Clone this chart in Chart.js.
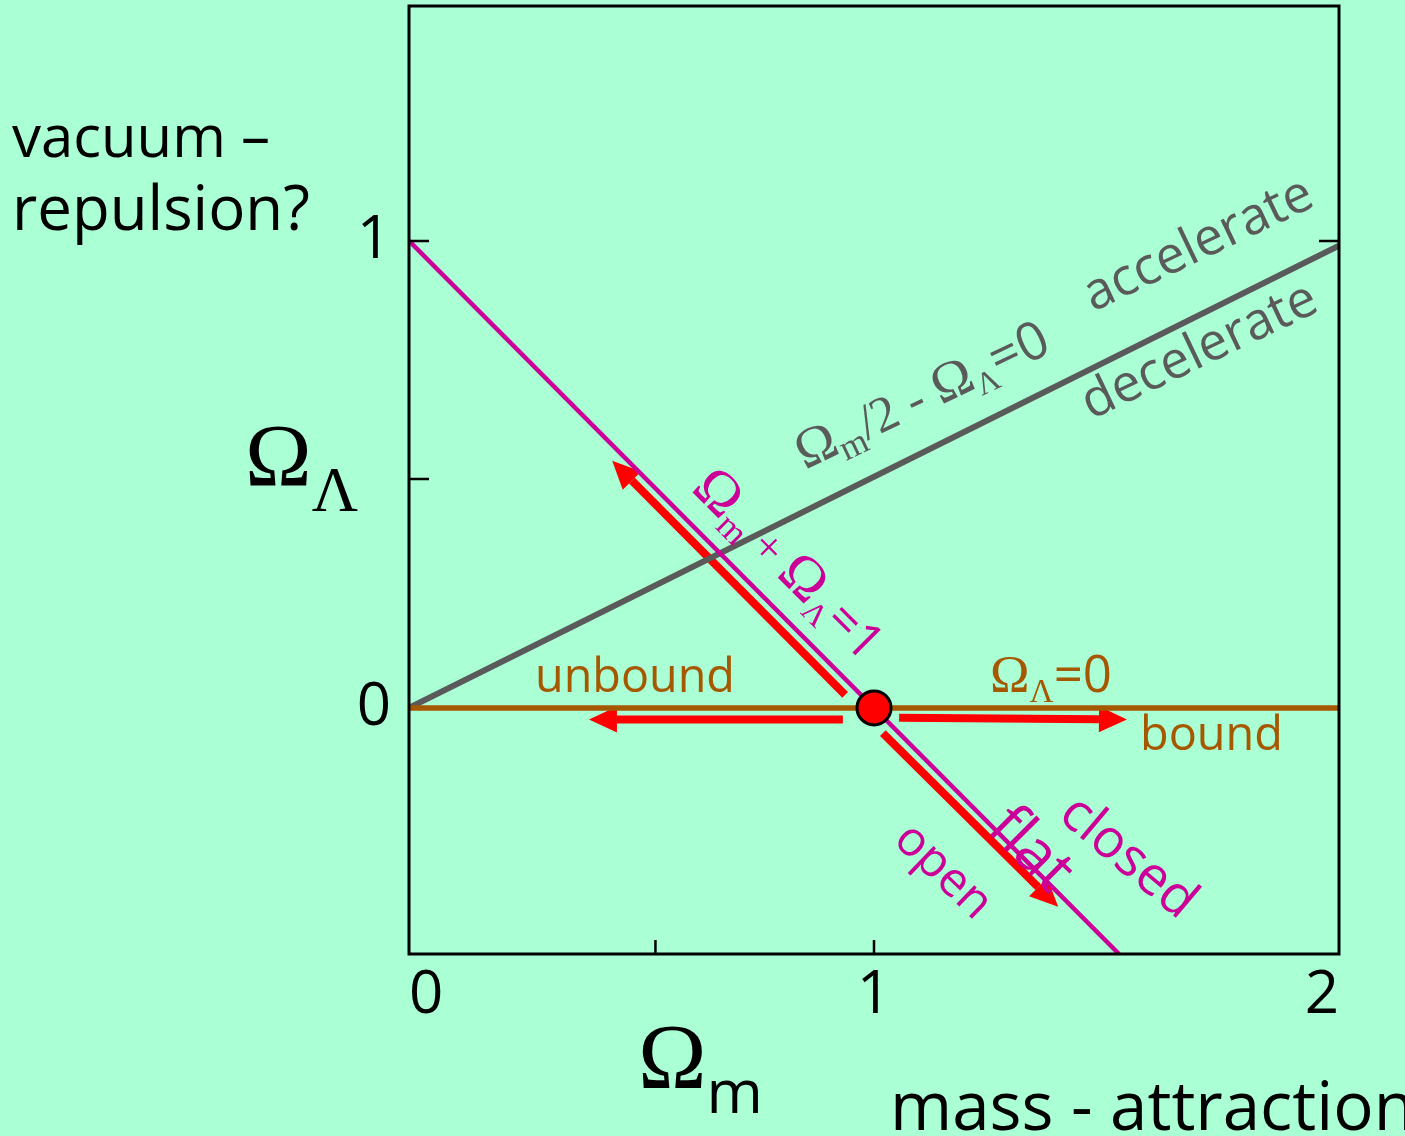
<!DOCTYPE html>
<html>
<head>
<meta charset="utf-8">
<script src="https://cdn.jsdelivr.net/npm/chart.js@4.4.1/dist/chart.umd.min.js"></script>
<style>
  html, body { margin: 0; padding: 0; background: #aaffd4; }
  canvas { display: block; }
</style>
</head>
<body>
<canvas id="chart" width="1405" height="1136"></canvas>
<script>
// axis ticks
const xTickValues = [0, 1, 2];
const yTickValues = [0, 1];
const xMarks = [0.53, 1];
const yMarksLeft = [0.49, 1];
const yMarksRight = [1];

// lines in the (Omega_m, Omega_Lambda) plane
const flatLine = [{x: 0, y: 1}, {x: 1.527, y: -0.527}];
const accelLine = [{x: 0, y: 0}, {x: 2, y: 0.99}];
const lambdaZero = [{x: 0, y: 0}, {x: 2, y: 0}];
const todayPoint = [{x: 1, y: 0}];

// red arrows, tail and head
const arrowTails = [[0.933, -0.0246], [1.054, -0.021], [0.938, 0.028], [1.019, -0.054]];
const arrowHeads = [[0.387, -0.0246], [1.544, -0.025], [0.437, 0.529], [1.396, -0.426]];

const SERIF = '"Liberation Serif", serif';
const SANS = '"Open Sans", sans-serif';
const BROWN = '#a65800', MAGENTA = '#cc0099', GREY = '#5a5a5a', RED = '#ff0000';

// text runs: mixed fonts, scaled to a target width
function fitRuns(ctx, runs, width, weight) {
    let w = 0;
    runs.forEach(r => { ctx.font = (r.f === SANS ? weight : '') + ' ' + r.s + 'px ' + r.f; w += ctx.measureText(r.t).width; });
    return width ? width / w : 1;
}
function drawRuns(ctx, runs, x, y, opt) {
    const wt = opt.weight || '500';
    const k = fitRuns(ctx, runs, opt.width, wt);
    const fontOf = r => (r.f === SANS ? wt : '') + ' ' + (r.s * k) + 'px ' + r.f;
    ctx.save();
    ctx.translate(x, y);
    ctx.rotate((opt.angle || 0) * Math.PI / 180);
    ctx.fillStyle = opt.color;
    ctx.textBaseline = opt.middle ? 'middle' : 'alphabetic';
    let total = 0;
    runs.forEach(r => { ctx.font = fontOf(r); total += ctx.measureText(r.t).width; });
    let cx = opt.center ? -total / 2 : 0;
    runs.forEach(r => {
        ctx.font = fontOf(r);
        ctx.fillText(r.t, cx, (r.dy || 0) * k);
        cx += ctx.measureText(r.t).width;
    });
    ctx.restore();
}

// labels inside the plot, anchored in data units
const plotLabels = [
    {at: [0.271, 0.034], width: 200, color: BROWN, runs: [{t: 'unbound', f: SANS, s: 50}]},
    {at: [1.572, -0.090], width: 143, color: BROWN, runs: [{t: 'bound', f: SANS, s: 50}]},
    {at: [1.2495, 0.034], width: 122, color: BROWN, runs: [
        {t: 'Ω', f: SERIF, s: 48}, {t: 'Λ', f: SERIF, s: 30, dy: 9}, {t: '=0', f: SANS, s: 46}]},
    {at: [0.8516, 0.5096], width: 275, angle: -25.5, color: GREY, runs: [
        {t: 'Ω', f: SERIF, s: 52}, {t: 'm', f: SERIF, s: 34, dy: 9}, {t: '/2 - ', f: SERIF, s: 48},
        {t: 'Ω', f: SERIF, s: 52}, {t: 'Λ', f: SERIF, s: 30, dy: 9}, {t: '=0', f: SANS, s: 50}]},
    {at: [1.471, 0.848], width: 248, angle: -25.5, color: GREY, runs: [{t: 'accelerate', f: SANS, s: 50}]},
    {at: [1.4667, 0.6167], width: 255, angle: -25.5, color: GREY, runs: [{t: 'decelerate', f: SANS, s: 50}]},
    {at: [0.6043, 0.4668], width: 245, angle: 45, color: MAGENTA, runs: [
        {t: 'Ω', f: SERIF, s: 56}, {t: 'm', f: SERIF, s: 34, dy: 9}, {t: ' + ', f: SERIF, s: 44},
        {t: 'Ω', f: SERIF, s: 56}, {t: 'Λ', f: SERIF, s: 30, dy: 9}, {t: '=1', f: SANS, s: 48}]},
    {at: [1.3355, -0.305], width: 92, angle: 45, center: true, middle: true, color: MAGENTA,
        runs: [{t: 'flat', f: SANS, s: 50}]},
    {at: [1.546, -0.321], width: 160, angle: 40, center: true, middle: true, color: MAGENTA,
        runs: [{t: 'closed', f: SANS, s: 50}]},
    {at: [1.148, -0.351], width: 115, angle: 44, center: true, middle: true, color: MAGENTA,
        runs: [{t: 'open', f: SANS, s: 50}]}
];

// labels around the frame, in canvas pixels
const frameLabels = [
    {at: [12, 157], width: 258, color: '#000', runs: [{t: 'vacuum –', f: SANS, s: 56}]},
    {at: [12, 230], width: 298, color: '#000', runs: [{t: 'repulsion?', f: SANS, s: 56}]},
    {at: [245, 485], width: 113, color: '#000', runs: [
        {t: 'Ω', f: SERIF, s: 90}, {t: 'Λ', f: SERIF, s: 64, dy: 26}]},
    {at: [638, 1088], width: 125, color: '#000', runs: [
        {t: 'Ω', f: SERIF, s: 94}, {t: 'm', f: SANS, s: 62, dy: 25}]},
    {at: [890, 1130], width: 525, color: '#000', runs: [{t: 'mass - attraction', f: SANS, s: 60}]}
];

function drawArrow(ctx, x0, y0, x1, y1) {
    const a = Math.atan2(y1 - y0, x1 - x0);
    const headLen = 28, headHalf = 13;
    const bx = x1 - headLen * Math.cos(a), by = y1 - headLen * Math.sin(a);
    ctx.strokeStyle = RED;
    ctx.lineWidth = 8;
    ctx.beginPath();
    ctx.moveTo(x0, y0);
    ctx.lineTo(bx, by);
    ctx.stroke();
    ctx.fillStyle = RED;
    ctx.beginPath();
    ctx.moveTo(x1, y1);
    ctx.lineTo(bx + headHalf * Math.sin(a), by - headHalf * Math.cos(a));
    ctx.lineTo(bx - headHalf * Math.sin(a), by + headHalf * Math.cos(a));
    ctx.closePath();
    ctx.fill();
}

const decorations = {
    id: 'decorations',
    beforeDatasetsDraw(chart) {
        const {ctx, scales: {x, y}} = chart;
        ctx.save();
        arrowTails.forEach((t, i) => {
            const h = arrowHeads[i];
            drawArrow(ctx, x.getPixelForValue(t[0]), y.getPixelForValue(t[1]),
                x.getPixelForValue(h[0]), y.getPixelForValue(h[1]));
        });
        ctx.restore();
    },
    afterDatasetsDraw(chart) {
        const {ctx, chartArea: a, scales: {x, y}} = chart;
        ctx.save();
        ctx.strokeStyle = '#000';
        ctx.lineWidth = 3;
        ctx.strokeRect(a.left, a.top, a.right - a.left, a.bottom - a.top);
        ctx.lineWidth = 2.5;
        ctx.beginPath();
        xMarks.forEach(v => {
            const px = x.getPixelForValue(v);
            ctx.moveTo(px, a.bottom); ctx.lineTo(px, a.bottom - 14);
        });
        yMarksLeft.forEach(v => {
            const py = y.getPixelForValue(v);
            ctx.moveTo(a.left, py); ctx.lineTo(a.left + 20, py);
        });
        yMarksRight.forEach(v => {
            const py = y.getPixelForValue(v);
            ctx.moveTo(a.right, py); ctx.lineTo(a.right - 20, py);
        });
        ctx.stroke();
        plotLabels.forEach(l => {
            drawRuns(ctx, l.runs, x.getPixelForValue(l.at[0]), y.getPixelForValue(l.at[1]), l);
        });
        ctx.restore();
    },
    afterDraw(chart) {
        const ctx = chart.ctx;
        frameLabels.forEach(l => drawRuns(ctx, l.runs, l.at[0], l.at[1], l));
    }
};

const line = (data, color, width, order) => ({
    data: data, showLine: true, borderColor: color, borderWidth: width,
    pointRadius: 0, order: order
});

new Chart(document.getElementById('chart'), {
    type: 'scatter',
    data: {
        datasets: [
            {data: todayPoint, pointRadius: 17, pointBackgroundColor: RED, pointBorderColor: '#000',
                pointBorderWidth: 3, order: 0},
            line(flatLine, MAGENTA, 4.5, 1),
            line(lambdaZero, BROWN, 5.5, 2),
            line(accelLine, GREY, 6, 3)
        ]
    },
    options: {
        responsive: false,
        devicePixelRatio: 1,
        animation: false,
        layout: {autoPadding: false, padding: {top: 6, right: 66, left: 0, bottom: 0}},
        plugins: {legend: {display: false}, tooltip: {enabled: false}},
        scales: {
            x: {
                type: 'linear', min: 0, max: 2,
                grid: {display: false, drawTicks: false},
                border: {display: false},
                afterBuildTicks: s => { s.ticks = xTickValues.map(v => ({value: v})); },
                afterFit: s => { s.height = 182; s.paddingLeft = 0; s.paddingRight = 0; },
                ticks: {
                    color: '#000', align: 'inner', padding: 6, maxRotation: 0,
                    font: {family: SANS, size: 60}
                }
            },
            y: {
                type: 'linear', min: -0.527, max: 1.503,
                grid: {display: false, drawTicks: false},
                border: {display: false},
                afterBuildTicks: s => { s.ticks = yTickValues.map(v => ({value: v})); },
                afterFit: s => { s.width = 409; s.paddingTop = 0; s.paddingBottom = 0; },
                ticks: {
                    color: '#000', padding: 18,
                    font: {family: SANS, size: 60}
                }
            }
        }
    },
    plugins: [decorations]
});
</script>
</body>
</html>
